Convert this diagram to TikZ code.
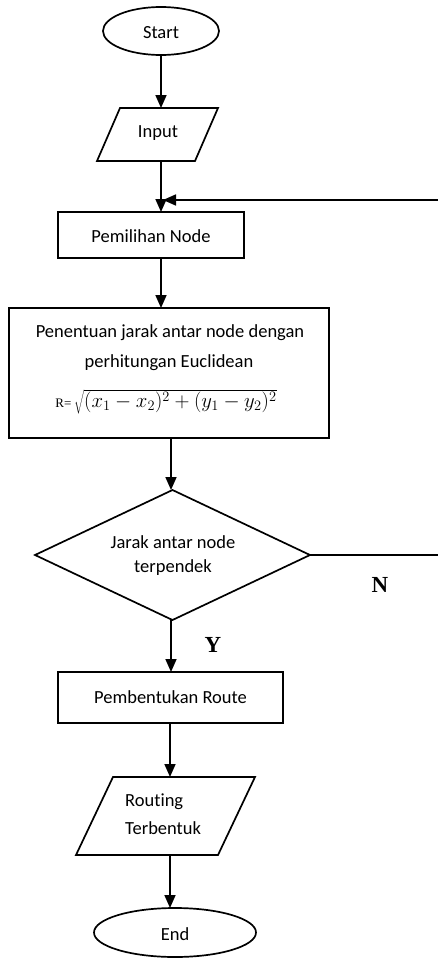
\documentclass[tikz,border=0pt]{standalone}
\usepackage{fontspec}
\setmainfont{Carlito}[Ligatures=NoCommon]
\newfontfamily\seriffont{Liberation Serif}
\usetikzlibrary{shapes.geometric,arrows.meta}
\begin{document}
\begin{tikzpicture}[x=1pt,y=-1pt,
  lw/.style={line width=1.7pt},
  shapebox/.style={lw, draw, inner sep=0pt, outer sep=0pt},
  ghost/.style={inner sep=0pt, outer sep=0pt},
  arr/.style={lw, -{Triangle[width=11pt,length=13pt]}},
  txt/.style={font=\fontsize{18.5}{22}\selectfont, inner sep=0pt},
  yn/.style={font=\seriffont\bfseries\fontsize{23}{26}\selectfont, inner sep=0pt}]
\useasboundingbox (0,0) rectangle (438,961);
\fill[white] (0,0) rectangle (438,961);

% Start
\node[shapebox, ellipse, minimum width=116pt, minimum height=48pt] (start) at (161,31) {};
\node[txt] (starttxt) at (161,33) {Start};

% Input parallelogram
\node[ghost, minimum width=121pt, minimum height=53pt] (input) at (157.5,134.5) {};
\draw[lw] (120,108) -- (218,108) -- (195,161) -- (97,161) -- cycle;
\node[txt] (inputtxt) at (158,133) {Input};

% Pemilihan Node
\node[shapebox, rectangle, minimum width=186pt, minimum height=46pt] (pemilihan) at (151,235) {};
\node[txt] (pemtxt) at (151,236) {Pemilihan Node};

% Penentuan
\node[shapebox, rectangle, minimum width=320pt, minimum height=130pt] (penentuan) at (169,373) {};
\node[txt] (pen1) at (170,333) {Penentuan jarak antar node dengan};
\node[txt] (pen2) at (169,363) {perhitungan Euclidean};
\node[inner sep=0pt] (formula) at (166,402) {{\seriffont\fontsize{13}{15}\selectfont R=}\;{\fontsize{20.74}{26}\selectfont$\sqrt{(x_1-x_2)^2+(y_1-y_2)^2}$}};

% Decision
\node[shapebox, diamond, minimum width=275pt, minimum height=130pt] (decision) at (172.5,555) {};
\node[txt] (dec1) at (173,542) {Jarak antar node};
\node[txt] (dec2) at (173,568) {terpendek};

% Pembentukan Route
\node[shapebox, rectangle, minimum width=225pt, minimum height=51pt] (pembentukan) at (170.5,697.5) {};
\node[txt] (pembtxt) at (170.5,697) {Pembentukan Route};

% Routing Terbentuk parallelogram
\node[ghost, minimum width=179pt, minimum height=78pt] (routing) at (165.5,816) {};
\draw[lw] (113,777) -- (255,777) -- (218,855) -- (76,855) -- cycle;
\node[txt, anchor=west, align=left, font=\fontsize{18.5}{28}\selectfont] (routtxt) at (125,814) {Routing\\Terbentuk};

% End
\node[shapebox, ellipse, minimum width=162pt, minimum height=49pt] (end) at (175,932.5) {};
\node[txt] (endtxt) at (175,934) {End};

% Connectors
\coordinate (c1) at (161,0);
\coordinate (c2) at (171,0);
\coordinate (c3) at (170,0);
\draw[arr] (start.south -| c1) -- (input.north -| c1);
\draw[arr] (input.south -| c1) -- (pemilihan.north -| c1);
\draw[arr] (pemilihan.south -| c1) -- (penentuan.north -| c1);
\draw[arr] (penentuan.south -| c2) -- (decision.north -| c2);
\draw[arr] (decision.south -| c2) -- (pembentukan.north -| c2);
\draw[arr] (pembentukan.south -| c3) -- (routing.north -| c3);
\draw[arr] (routing.south -| c3) -- (end.north -| c3);

% Loop back (N)
\coordinate (loopright) at (446,555);
\coordinate (loopin) at (163,200);
\draw[arr] (decision.east) -- (loopright) |- (loopin);

\node[yn] (nlabel) at (380,585) {N};
\node[yn] (ylabel) at (213,645) {Y};
\end{tikzpicture}
\end{document}
